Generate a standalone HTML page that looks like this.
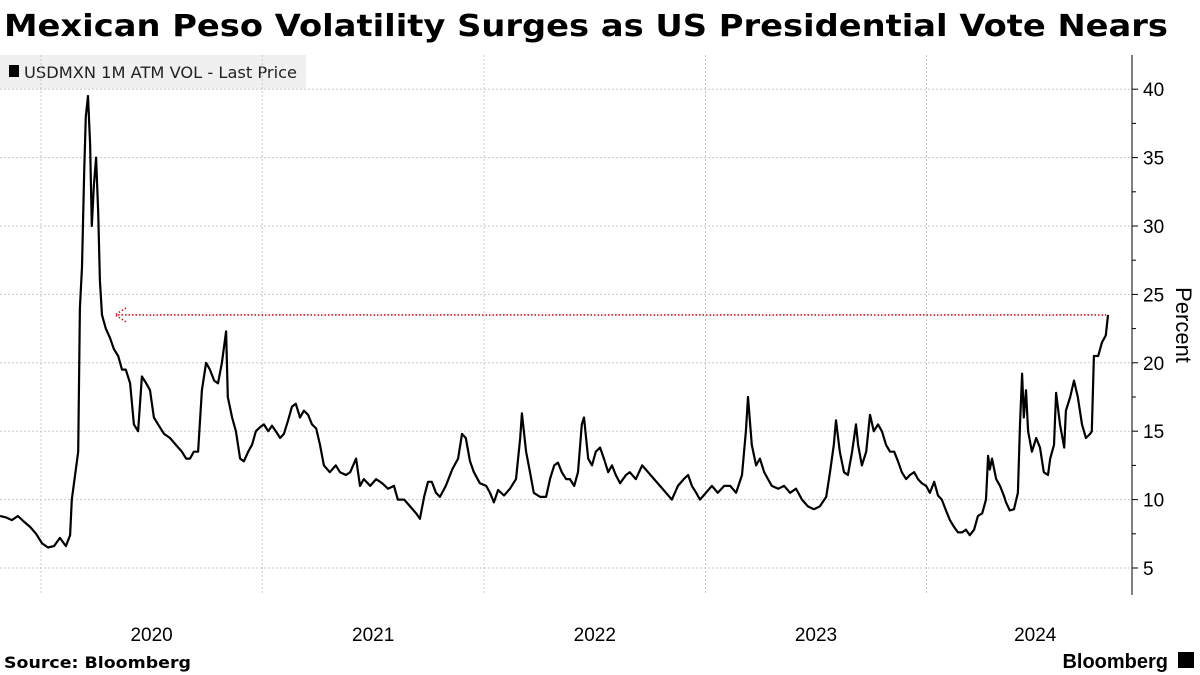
<!DOCTYPE html>
<html><head><meta charset="utf-8"><style>
body{margin:0;background:#fff;width:1200px;height:675px;overflow:hidden;font-family:"Liberation Sans",sans-serif}
svg{display:block}
</style></head><body>
<svg id="c" width="1200" height="675">
<text x="4" y="36" font-size="30" font-weight="bold" fill="#000" font-family="DejaVu Sans, sans-serif" textLength="1164" lengthAdjust="spacingAndGlyphs">Mexican Peso Volatility Surges as US Presidential Vote Nears</text>
<rect x="0" y="55" width="306" height="34" fill="#f0f0f0"/>
<rect x="9" y="65" width="10" height="12" fill="#000"/>
<text x="24" y="78" font-size="16" fill="#222" font-family="DejaVu Sans, sans-serif" textLength="273" lengthAdjust="spacingAndGlyphs">USDMXN 1M ATM VOL - Last Price</text>
<g id="grid"></g><g id="axis"></g><g id="series"></g>
<text x="4" y="668" font-size="16" font-weight="bold" font-family="DejaVu Sans, sans-serif" textLength="187" lengthAdjust="spacingAndGlyphs">Source: Bloomberg</text>
<text x="1168" y="668" font-size="20" font-weight="bold" text-anchor="end">Bloomberg</text>
<rect x="1178" y="652" width="16" height="16" fill="#000"/>
</svg>
<script>
const weeks=[0,1.4,2.8,4.2,5.6,7.1,8.5,9.9,11.3,12.7,14.1,15.5,16.5,16.9,18.4,18.8,19.3,19.8,20.2,20.7,21.2,21.6,22.1,22.6,23.1,23.5,24,24.9,25.9,26.8,27.8,28.7,29.6,30.6,31.5,32.5,33.4,34.4,35.3,36.2,37.2,38.6,40,41.4,42.8,43.8,44.7,45.6,46.6,47.5,48.5,49.4,50.4,51.3,52.2,53.2,53.6,54.6,55.5,56.5,57.4,58.4,59.3,60.2,61.2,62.1,63.1,64,64.9,65.9,66.8,67.8,68.7,69.6,70.6,71.5,72.5,73.4,74.4,75.3,76.2,77.6,79,80,81.4,82.4,83.8,84.7,85.6,87.1,88.5,89.9,91.3,92.7,93.6,95.1,96.5,97.9,98.8,99.8,100.7,101.6,102.6,103.5,104.9,106.4,107.8,108.7,109.6,110.6,111.5,112.9,114.4,115.3,116.2,117.2,118.6,120,121.4,122.4,122.8,123.8,124.7,125.6,127.1,128.5,129.4,130.4,131.3,132.2,133.2,134.1,135.1,136,136.9,137.4,138.4,139.3,140.2,141.2,142.1,143.1,144,144.9,145.9,147.3,148.2,149.6,151.1,152.5,153.9,155.3,156.7,158.1,159.5,160.9,161.9,162.8,163.8,164.7,166.1,167.5,168.9,170.4,171.8,173.2,174.6,175.5,176,176.9,177.9,178.8,179.8,180.7,181.6,183.1,184.5,185.9,187.3,188.7,190.1,191.5,192.9,194.4,195.3,196.2,196.7,197.6,198.6,199.5,200.5,201.4,201.9,202.8,203.8,204.7,205.6,206.6,207.5,208.5,209.4,210.4,211.3,212.2,213.2,214.1,215.1,216,216.9,217.9,218.8,219.8,220.7,221.6,222.6,223.5,224.5,225.4,226.4,227.3,228.2,229.2,230.1,231.1,232,232.5,232.9,233.4,234.4,235.3,236.2,236.7,237.6,238.6,239.5,240,240.5,240.9,241.4,241.9,242.8,243.8,244.7,245.6,246.6,247.1,248,248.5,249.4,250.4,250.8,251.8,252.7,253.6,254.6,255.5,256.5,256.9,257.4,258.4,259.3,260.2,260.7];
const vols=[8.8,8.7,8.5,8.8,8.4,8.0,7.5,6.8,6.5,6.6,7.2,6.6,7.4,10,13.5,24,27,34,38,39.5,36,30,33,35,31,26,23.5,22.5,21.8,21,20.5,19.5,19.5,18.5,15.5,15,19,18.5,18,16,15.5,14.8,14.5,14,13.5,13,13,13.5,13.5,18,20,19.5,18.7,18.5,20,22.3,17.5,16,15,13,12.8,13.5,14,15,15.3,15.5,15,15.4,15,14.5,14.8,15.8,16.8,17,16,16.5,16.2,15.5,15.2,14,12.5,12,12.5,12,11.8,12,13,11,11.5,11,11.5,11.2,10.8,11,10,10,9.5,9,8.6,10.2,11.3,11.3,10.5,10.2,11,12.2,13,14.8,14.5,12.8,12,11.2,11,10.5,9.8,10.7,10.3,10.8,11.5,14.5,16.3,13.5,12,10.5,10.2,10.2,11.5,12.5,12.7,12,11.5,11.5,11,12,15.5,16,13,12.5,13.5,13.8,13,12,12.5,11.8,11.2,11.8,12,11.5,12.5,12,11.5,11,10.5,10,11,11.5,11.8,11,10.5,10,10.5,11,10.5,11,11,10.5,11.8,15,17.5,14,12.5,13,12,11.5,11,10.8,11,10.5,10.8,10,9.5,9.3,9.5,10.2,12,14,15.8,13.5,12,11.8,13.5,15.5,14,12.5,13.5,16.2,15,15.5,15,14,13.5,13.5,12.8,12,11.5,11.8,12,11.5,11.2,11,10.5,11.3,10.3,10,9.2,8.5,8,7.6,7.6,7.8,7.4,7.8,8.8,9,10,13.2,12.2,13,11.5,11,10.3,9.8,9.2,9.3,10.5,15.5,19.2,16,18,15,13.5,14.5,13.8,12,11.8,13,14,17.8,15.5,13.8,16.5,17.5,18.7,17.5,15.5,14.5,14.8,15,20.5,20.5,21.5,22,23.5];
const yTicks=[5,10,15,20,25,30,35,40];
const yearLabels=["2020","2021","2022","2023","2024"];
const yearStartWeeks=[9.65,61.7,113.9,166.0,218.0,270.1];
const NS="http://www.w3.org/2000/svg";
const xS=w=>w*4.25;
const yS=v=>568-(v-5)*13.68;
const grid=document.getElementById('grid'),axis=document.getElementById('axis'),ser=document.getElementById('series');
function mk(tag,attrs,parent){const e=document.createElementNS(NS,tag);for(const k in attrs)e.setAttribute(k,attrs[k]);parent.appendChild(e);return e;}
yTicks.forEach(t=>{
  const l=mk('line',{x1:0,x2:1132,y1:yS(t),y2:yS(t),stroke:'#c8c8c8','stroke-dasharray':'2,2'},grid);
  
  
  const tk=mk('line',{x1:1132,x2:1138,y1:yS(t),y2:yS(t),stroke:'#000'},axis);
  
  
  const tx=mk('text',{x:1143,y:yS(t)+7,'font-size':19,fill:'#000'},axis);
  tx.textContent=t;
  
  
  if(t<40){const m=mk('line',{x1:1132,x2:1136,y1:yS(t+2.5),y2:yS(t+2.5),stroke:'#000'},axis);
  
  }
});
yearLabels.forEach((lab,i)=>{
  const x=xS(yearStartWeeks[i]);
  const g=mk('line',{x1:x,x2:x,y1:55,y2:595,stroke:'#c8c8c8','stroke-dasharray':'2,2'},grid);
  
  
  const t=mk('text',{x:(x+xS(yearStartWeeks[i+1]))/2-(i==4?2:0),y:641,'font-size':19,'text-anchor':'middle'},axis);
  t.textContent=lab;
  
  
});
const ax=mk('line',{x1:1132,x2:1132,y1:55,y2:595,stroke:'#000'},axis);


const pt=mk('text',{x:0,y:0,'font-size':22,transform:'translate(1176,325) rotate(90)','text-anchor':'middle'},axis);
pt.textContent='Percent';


let d='';weeks.forEach((w,i)=>{d+=(i?'L':'M')+xS(w).toFixed(1)+','+yS(vols[i]).toFixed(1);});
const p=mk('path',{d:d,fill:'none',stroke:'#000','stroke-width':2.2,'stroke-linejoin':'round'},ser);


const last=vols[vols.length-1];
const ay=yS(last);
const ar=mk('line',{x1:118,x2:xS(weeks[weeks.length-1])-2,y1:ay,y2:ay,stroke:'#e0161c','stroke-width':1.6,'stroke-dasharray':'1.5,2'},ser);


const ah=mk('path',{d:`M126,${ay-7}L115,${ay}L126,${ay+7}`,fill:'none',stroke:'#e0161c','stroke-width':1.6,'stroke-dasharray':'1.5,2'},ser);


</script>
</body></html>
